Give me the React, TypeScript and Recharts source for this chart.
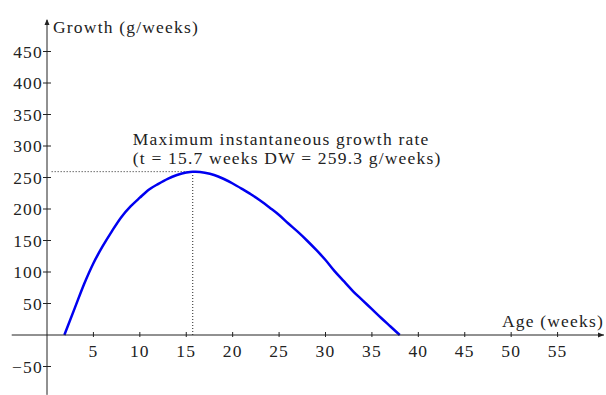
import { Line, LineChart, ReferenceDot, ReferenceLine, XAxis, YAxis } from "recharts";

const INK = "#222";
const BLUE = "#0000f0";
const FONT = "'Liberation Serif', 'Times New Roman', serif";

// age (weeks) and instantaneous growth (g/weeks)
const AGES = [1.87, 3, 4, 5, 6, 7, 8, 9, 10, 11, 12, 13, 14, 15, 15.7, 16, 17, 18, 19, 20, 21, 22, 23, 24, 25, 26, 27, 28, 29, 30, 31, 32, 33, 34, 35, 36, 37, 38];
const GROWTH = [0, 43, 81, 114, 141, 165, 187, 204, 218, 231, 240, 248, 254, 258, 259.3, 259.2, 257.5, 254, 248, 240.5, 232, 223, 213, 202, 190.5, 177, 164, 150, 135, 119, 101, 85, 69, 55, 41, 27, 13.5, 0];

const X_TICKS = [5, 10, 15, 20, 25, 30, 35, 40, 45, 50, 55];
const Y_TICKS = [50, 100, 150, 200, 250, 300, 350, 400, 450];
const NEG_TICK = -50;

const PEAK_T = 15.7;
const PEAK_DW = 259.3;

const rows = AGES.map((a, i) => ({ age: a, growth: GROWTH[i] }));

const textStyle = { fontFamily: FONT, fontSize: 17.5, letterSpacing: 1.2, fill: INK };

function XTick({ x, y, payload }: any) {
  return (
    <g>
      <line x1={x} x2={x} y1={y - 3} y2={y + 2} stroke={INK} strokeWidth={1} />
      <text x={x} y={y + 22} textAnchor="middle" {...textStyle}>{payload.value}</text>
    </g>
  );
}

function YTick({ x, y, payload }: any) {
  return (
    <g>
      <line x1={x - 4} x2={x + 4} y1={y} y2={y} stroke={INK} strokeWidth={1} />
      <text x={x - 4} y={y + 6} textAnchor="end" {...textStyle}>{payload.value}</text>
    </g>
  );
}

export default function App() {
  return (
    <div style={{ position: "absolute", left: 0, top: 0, width: 606, height: 395, background: "#fff" }}>
      <LineChart width={606} height={395} data={rows} margin={{ top: 20, right: 2, left: 0, bottom: 0 }}>
        <XAxis
          dataKey="age"
          type="number"
          domain={[0, 60]}
          ticks={X_TICKS}
          height={60}
          stroke={INK}
          tickLine={false}
          tickSize={0}
          tickMargin={0}
          tick={<XTick />}
        />
        <YAxis
          type="number"
          domain={[0, 500]}
          ticks={Y_TICKS}
          width={47}
          stroke={INK}
          tickLine={false}
          tickSize={0}
          tickMargin={0}
          tick={<YTick />}
        />
        {/* axis extensions past the origin */}
        <ReferenceLine segment={[{ x: 0, y: -95 }, { x: 0, y: 0 }]} stroke={INK} ifOverflow="visible" />
        <ReferenceLine segment={[{ x: -3.8, y: 0 }, { x: 0, y: 0 }]} stroke={INK} ifOverflow="visible" />
        <ReferenceDot
          x={0}
          y={NEG_TICK}
          ifOverflow="visible"
          shape={(p: any) => (
            <g>
              <line x1={p.cx - 4} x2={p.cx + 4} y1={p.cy} y2={p.cy} stroke={INK} />
              <text x={p.cx - 4} y={p.cy + 6} textAnchor="end" {...textStyle}>{"\u221250"}</text>
            </g>
          )}
        />
        {/* dotted guides to the maximum */}
        <ReferenceLine segment={[{ x: 0.5, y: PEAK_DW }, { x: PEAK_T, y: PEAK_DW }]} stroke={INK} strokeDasharray="1 2" ifOverflow="visible" />
        <ReferenceLine segment={[{ x: PEAK_T, y: 0 }, { x: PEAK_T, y: PEAK_DW }]} stroke={INK} strokeDasharray="1 2" ifOverflow="visible" />
        <Line type="monotone" dataKey="growth" stroke={BLUE} strokeWidth={2.5} dot={false} isAnimationActive={false} />
        <ReferenceDot
          x={PEAK_T}
          y={PEAK_DW}
          ifOverflow="visible"
          shape={(p: any) => (
            <g>
              <text x={p.cx - 60} y={p.cy - 27} {...textStyle}>Maximum instantaneous growth rate</text>
              <text x={p.cx - 60} y={p.cy - 8} {...textStyle}>(t = 15.7 weeks DW = 259.3 g/weeks)</text>
            </g>
          )}
        />
        <ReferenceDot
          x={0}
          y={500}
          ifOverflow="visible"
          shape={(p: any) => (
            <g>
              <path d={`M${p.cx},${p.cy - 1} L${p.cx - 2.5},${p.cy + 5} L${p.cx + 2.5},${p.cy + 5} Z`} fill={INK} />
              <text x={p.cx + 6} y={p.cy + 13} {...textStyle}>Growth (g/weeks)</text>
            </g>
          )}
        />
        <ReferenceDot
          x={60}
          y={0}
          ifOverflow="visible"
          shape={(p: any) => (
            <g>
              <path d={`M${p.cx},${p.cy} L${p.cx - 6},${p.cy - 2.5} L${p.cx - 6},${p.cy + 2.5} Z`} fill={INK} />
              <text x={p.cx} y={p.cy - 8} textAnchor="end" {...textStyle}>Age (weeks)</text>
            </g>
          )}
        />
      </LineChart>
    </div>
  );
}
